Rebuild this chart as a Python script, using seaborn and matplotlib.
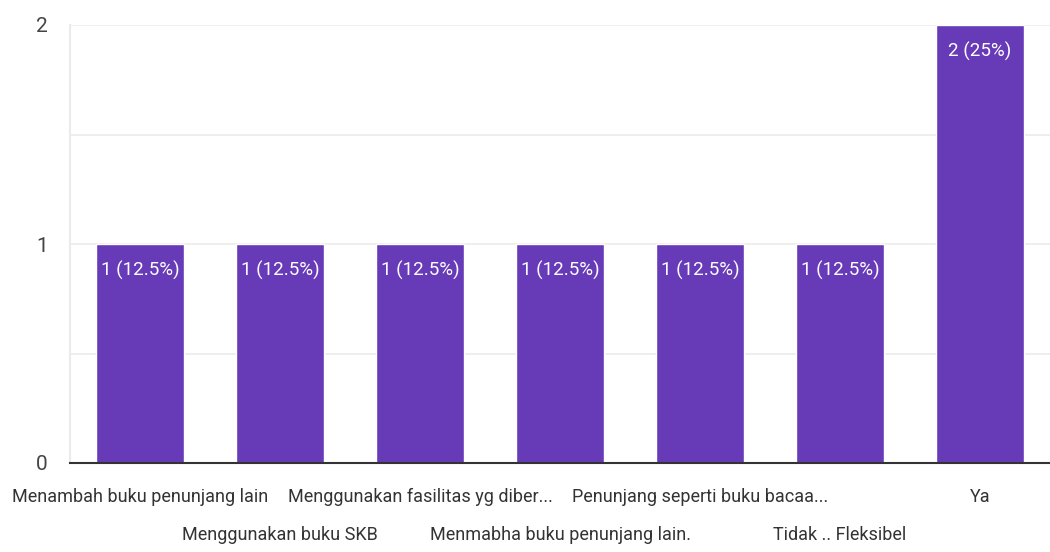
import matplotlib
matplotlib.use("Agg")
import matplotlib.pyplot as plt
import seaborn as sns
import pandas as pd

# Data
categories = [
    "Menambah buku penunjang lain",
    "Menggunakan buku SKB",
    "Menggunakan fasilitas yg diber...",
    "Menmabha buku penunjang lain.",
    "Penunjang seperti buku bacaa...",
    "Tidak .. Fleksibel",
    "Ya",
]
counts = [1, 1, 1, 1, 1, 1, 2]
percents = [12.5, 12.5, 12.5, 12.5, 12.5, 12.5, 25]
y_ticks = [0, 1, 2]

df = pd.DataFrame({"cat": categories, "n": counts})

sns.set_style("white")
plt.rcParams['font.family'] = ['Roboto', 'DejaVu Sans']

fig = plt.figure(figsize=(10.5, 5.52), dpi=100)
ax = fig.add_axes([70 / 1050, 1 - 463 / 552, 980 / 1050, (463 - 25) / 552])

sns.barplot(data=df, x="cat", y="n", color="#673ab7", saturation=1, width=0.63, ax=ax)

ax.set_ylim(0, 2)
ax.set_xlim(-0.5, len(categories) - 0.5)
ax.set_yticks(y_ticks)
ax.set_yticklabels([str(t) for t in y_ticks], fontsize=15, color="#444444")
for g in [0.5, 1, 1.5, 2]:
    ax.axhline(g, color="#ebebeb", lw=1.2, zorder=0)
ax.set_axisbelow(True)

for s in ["top", "right"]:
    ax.spines[s].set_visible(False)
ax.spines["left"].set_color("#ebebeb")
ax.spines["left"].set_linewidth(1.5)
ax.spines["bottom"].set_color("#333333")
ax.spines["bottom"].set_linewidth(1.5)
ax.tick_params(axis="y", length=0, pad=16)
ax.tick_params(axis="x", length=0)

ax.set_xticks(range(len(categories)))
ax.set_xticklabels([])
for i, c in enumerate(categories):
    dy = -0.078 if i % 2 == 0 else -0.164
    ax.text(i, dy, c, ha="center", va="center", fontsize=13, color="#333333",
            transform=ax.get_xaxis_transform())

for i, (n, p) in enumerate(zip(counts, percents)):
    ax.text(i, n - 0.12, f"{n} ({p:g}%)", ha="center", va="center",
            color="white", fontsize=13.5)

ax.set_xlabel("")
ax.set_ylabel("")
fig.savefig("out.png", dpi=100)
